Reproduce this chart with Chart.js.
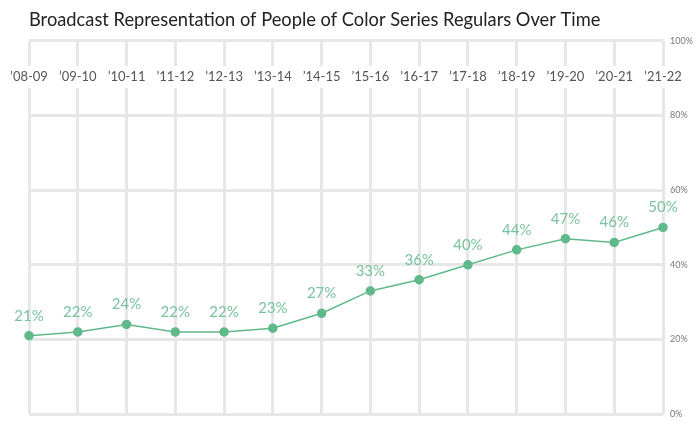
<!DOCTYPE html>
<html>
<head>
<meta charset="utf-8">
<script src="https://cdn.jsdelivr.net/npm/chart.js@4"></script>
<style>
  html, body { margin: 0; padding: 0; background: #fff; }
  #wrap { width: 700px; height: 430px; }
</style>
</head>
<body>
<div id="wrap"><canvas id="RepChart"></canvas></div>
<script>
// Stagioni televisive e percentuali
const seasons = ['’08-09', '’09-10', '’10-11', '’11-12', '’12-13', '’13-14', '’14-15',
    '’15-16', '’16-17', '’17-18', '’18-19', '’19-20', '’20-21', '’21-22'];
const shares = [21, 22, 24, 22, 22, 23, 27, 33, 36, 40, 44, 47, 46, 50];
const yTicks = [0, 20, 40, 60, 80, 100];

const gridColor = '#e7e7e7';
const green = '#5fb98b';
const labelGreen = '#78c29f';

// Etichette delle stagioni dentro l'area del grafico, con sfondo bianco
const seasonLabels = {
    id: 'seasonLabels',
    afterDatasetsDraw(chart) {
        const ctx = chart.ctx;
        const x = chart.scales.x;
        const y = 77;
        ctx.save();
        ctx.font = '13px Lato';
        ctx.textAlign = 'center';
        ctx.textBaseline = 'middle';
        seasons.forEach((s, i) => {
            const px = x.getPixelForValue(i);
            const w = ctx.measureText(s).width;
            ctx.fillStyle = '#fff';
            ctx.fillRect(px - w / 2 - 3, y - 11, w + 6, 22);
            ctx.fillStyle = '#555';
            ctx.fillText(s, px, y);
        });
        ctx.restore();
    }
};

// Valori sopra i punti
const valueLabels = {
    id: 'valueLabels',
    afterDatasetsDraw(chart) {
        const ctx = chart.ctx;
        const meta = chart.getDatasetMeta(0);
        ctx.save();
        ctx.font = '15px Lato';
        ctx.fillStyle = labelGreen;
        ctx.textAlign = 'center';
        ctx.textBaseline = 'middle';
        meta.data.forEach((pt, i) => {
            ctx.fillText(shares[i] + '%', pt.x, pt.y - 20);
        });
        ctx.restore();
    }
};

document.addEventListener('DOMContentLoaded', function() {
const ctx = document.getElementById('RepChart').getContext('2d');
const chart = new Chart(ctx, {
    type: 'line',
    data: {
        labels: seasons,
        datasets: [{
            data: shares,
            borderColor: green,
            backgroundColor: green,
            borderWidth: 1.5,
            pointRadius: 4,
            pointHoverRadius: 4,
            tension: 0
        }]
    },
    options: {
        responsive: true,
        maintainAspectRatio: false,
        animation: false,
        layout: {
            padding: { left: 29, right: 0, top: 0, bottom: 16 }
        },
        plugins: {
            legend: { display: false },
            tooltip: { enabled: false },
            title: {
                display: true,
                text: 'Broadcast Representation of People of Color Series Regulars Over Time',
                align: 'start',
                color: '#222',
                font: { family: 'Lato', size: 18.3, weight: 'normal', lineHeight: 1.2 },
                padding: { top: 9, bottom: 10 }
            }
        },
        scales: {
            x: {
                position: 'top',
                offset: false,
                grid: { color: gridColor, lineWidth: 3, drawTicks: false },
                border: { display: false },
                ticks: { display: false },
                afterFit: s => { s.height = 0; }
            },
            y: {
                position: 'right',
                min: 0,
                max: 100,
                afterBuildTicks: s => { s.ticks = yTicks.map(v => ({ value: v })); },
                grid: { color: gridColor, lineWidth: 3, drawTicks: false },
                border: { display: false },
                ticks: {
                    padding: 7,
                    color: '#777',
                    font: { family: 'Lato', size: 9 },
                    callback: v => v + '%'
                },
                afterFit: s => { s.width = 37; }
            }
        }
    },
    plugins: [seasonLabels, valueLabels]
});
});
</script>
</body>
</html>
